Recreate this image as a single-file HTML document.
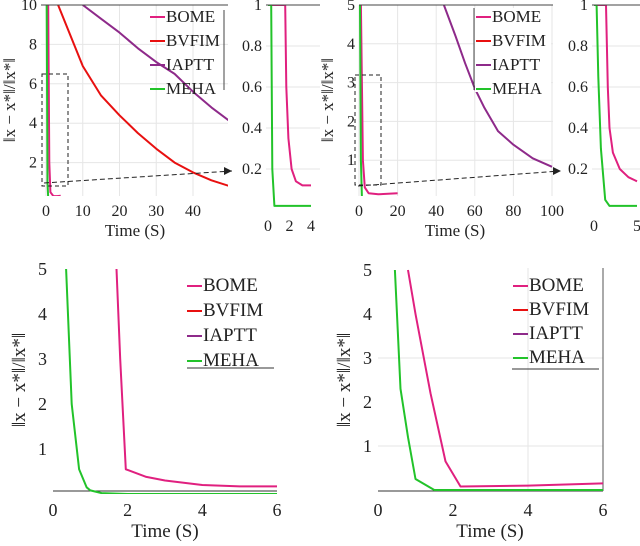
<!DOCTYPE html>
<html><head><meta charset="utf-8">
<style>
body{margin:0;background:#fff;width:640px;height:541px;overflow:hidden}
svg text{font-family:"Liberation Serif","DejaVu Serif","Times New Roman",serif !important;fill:#222}
</style></head>
<body>
<svg id="s" width="640" height="541" xmlns="http://www.w3.org/2000/svg"></svg>
<script>
// ---- data ----
const seriesNames=["BOME","BVFIM","IAPTT","MEHA"];
const seriesColors=["#e0207f","#e81010","#8e2a8a","#22c32a"];
// panel A (top-left)
const aBomeT=[0,0.6,0.9,1.2,2,3,4];   const aBomeV=[10,10,2,0.5,0.3,0.3,0.32];
const aBvfimT=[3.3,10,15,20,25,30,35,40,45,50]; const aBvfimV=[10,6.9,5.4,4.4,3.5,2.7,2.0,1.5,1.1,0.8];
const aIapttT=[10,15,20,25,30,35,40,45,50]; const aIapttV=[10,9.3,8.6,7.8,7.1,6.5,5.6,4.8,4.1];
const aMehaT=[0,0.2,0.4,0.6,3,4]; const aMehaV=[10,10,1,0.2,0.2,0.2];
const aInsBomeT=[0,1.6,1.7,1.9,2.2,2.6,3.2,4]; const aInsBomeV=[1,1,0.6,0.35,0.2,0.14,0.12,0.12];
const aInsMehaT=[0,0.3,0.4,0.6,4]; const aInsMehaV=[1,1,0.2,0.02,0.02];
// panel B (top-right)
const bBomeT=[0,1,2,3,5,10,20]; const bBomeV=[5,5,1,0.3,0.15,0.12,0.15];
const bIapttT=[44,50,55,60,65,72,80,90,100]; const bIapttV=[5,4.2,3.5,2.85,2.35,1.75,1.4,1.05,0.83];
const bMehaT=[0,0.5,1,1.5,3,8]; const bMehaV=[5,5,1,0.05,0.02,0.02];
const bInsBomeT=[0,1.4,1.6,1.8,2.2,3,4,5]; const bInsBomeV=[1,1,0.6,0.4,0.28,0.2,0.16,0.14];
const bInsMehaT=[0,0.3,0.5,0.8,1.3,1.8,5]; const bInsMehaV=[1,1,0.65,0.3,0.05,0.02,0.02];
// panel C (bottom-left)
const cBomeT=[1.7,1.8,1.95,2.5,3,4,5,6]; const cBomeV=[5,3,0.55,0.38,0.3,0.2,0.17,0.17];
const cMehaT=[0.35,0.5,0.7,0.9,1.0,1.3,2,6]; const cMehaV=[5,2,0.55,0.15,0.08,0.02,0,0];
// panel D (bottom-right)
const dBomeT=[0.8,1.0,1.4,1.8,2.2,4,6]; const dBomeV=[5,4,2.2,0.65,0.08,0.1,0.15];
const dMehaT=[0.45,0.6,0.8,1.0,1.5,2,6]; const dMehaV=[5,2.3,1.2,0.25,0,0,0];
const aXTicks=[0,10,20,30,40], aYTicks=[2,4,6,8,10];
const bXTicks=[0,20,40,60,80,100], bYTicks=[1,2,3,4,5];
const insTicksY=[0.2,0.4,0.6,0.8,1];
const cXTicks=[0,2,4,6], cYTicks=[1,2,3,4,5];

const S=document.getElementById('s');
const NS="http://www.w3.org/2000/svg";
function mk(tag,at,parent){const e=document.createElementNS(NS,tag);for(const k in at)e.setAttribute(k,at[k]);(parent||S).appendChild(e);return e;}
function axis(x0,x1,t0,t1,y0,y1,v0,v1){return{x:t=>x0+(t-t0)/(t1-t0)*(x1-x0),y:v=>y0+(v-v0)/(v1-v0)*(y1-y0)};}
function line(ax,T,V,color,name,clip){const d=T.map((t,i)=>(i?'L':'M')+ax.x(t).toFixed(1)+','+ax.y(V[i]).toFixed(1)).join('');
 const p=mk('path',{d:d,fill:'none',stroke:color,'stroke-width':2,'stroke-linejoin':'round'});
 
 
 if(clip)p.setAttribute('clip-path','url(#'+clip+')');}
function txt(x,y,s,anchor,size,name){const t=mk('text',{x:x,y:y,'text-anchor':anchor||'middle','font-size':size||15});
 t.style.fontFamily='"Liberation Serif","DejaVu Serif",serif';t.textContent=s;
 
 return t;}
function clip(id,x,y,w,h){const c=mk('clipPath',{id:id});mk('rect',{x:x,y:y,width:w,height:h},c);}
function grid(ax,xt,yt,L,R,T,B){xt.forEach(t=>mk('line',{x1:ax.x(t),x2:ax.x(t),y1:T,y2:B,stroke:'#e6e6e6'}));yt.forEach(v=>mk('line',{x1:L,x2:R,y1:ax.y(v),y2:ax.y(v),stroke:'#e6e6e6'}));}
function legend(x,y,dy,name,size){const g=mk('g',{});
 seriesNames.forEach((n,i)=>{mk('line',{x1:x,x2:x+15,y1:y+i*dy-5,y2:y+i*dy-5,stroke:seriesColors[i],'stroke-width':2},g);
 const t=txt(x+16,y+i*dy,n,'start',size||16,'legend-entry-'+n.toLowerCase());g.appendChild(t);});}
function ylab(x,y,name,size){const t=txt(0,0,'‖x − x*‖/‖x*‖','middle',size||16,name);t.setAttribute('transform','translate('+x+','+y+') rotate(-90)');}

// ---------- Panel A ----------
let A=axis(46,193,0,40,202,5,0,10);
grid(A,aXTicks,aYTicks,41,228,5,196);
clip('ca',41,5,187,191);
line(A,aBvfimT,aBvfimV,seriesColors[1],'bvfim-line-a','ca');
line(A,aIapttT,aIapttV,seriesColors[2],'iaptt-line-a','ca');
line(A,aBomeT,aBomeV,seriesColors[0],'bome-line-a','ca');
line(A,aMehaT,aMehaV,seriesColors[3],'meha-line-a','ca');
mk('line',{x1:41,x2:228,y1:5,y2:5,stroke:'#444'});
aXTicks.forEach(t=>txt(A.x(t),216,t,'middle',16,'x-tick-a'));
aYTicks.forEach(v=>txt(37,A.y(v)+5,v,'end',16,'y-tick-a'));
txt(135,236,'Time (S)','middle',17,'x-axis-title-a');
ylab(15,100,'y-axis-title-a',17);
legend(150,22,24,'legend-a',17);
mk('line',{x1:224,x2:224,y1:10,y2:90,stroke:'#444'});
mk('rect',{x:42,y:74,width:26,height:112,fill:'none',stroke:'#222','stroke-dasharray':'4,3'});
mk('path',{d:'M44,183 L232,171',stroke:'#222','stroke-dasharray':'5,3',fill:'none'});
mk('path',{d:'M232,171 l-8,-4 l0,8z',fill:'#222'});
// inset A
let AI=axis(268,311,0,4,210,5,0,1);
grid(AI,[],insTicksY,266,320,5,210);
clip('cai',266,5,54,206);
line(AI,aInsBomeT,aInsBomeV,seriesColors[0],'bome-inset-a','cai');
line(AI,aInsMehaT,aInsMehaV,seriesColors[3],'meha-inset-a','cai');
mk('line',{x1:266,x2:320,y1:5,y2:5,stroke:'#444'});
[0,2,4].forEach(t=>txt(AI.x(t),231,t,'middle',16,'x-tick-ai'));
insTicksY.forEach(v=>txt(262,AI.y(v)+5,v,'end',16,'y-tick-ai'));

// ---------- Panel B ----------
let B=axis(359,552,0,100,199,5,0,5);
grid(B,bXTicks,bYTicks,359,553,5,196);
clip('cb',359,5,194,191);
line(B,bIapttT,bIapttV,seriesColors[2],'iaptt-line-b','cb');
line(B,bBomeT,bBomeV,seriesColors[0],'bome-line-b','cb');
line(B,bMehaT,bMehaV,seriesColors[3],'meha-line-b','cb');
mk('line',{x1:359,x2:553,y1:5,y2:5,stroke:'#444'});
bXTicks.forEach(t=>txt(B.x(t),216,t,'middle',16,'x-tick-b'));
bYTicks.forEach(v=>txt(355,B.y(v)+5,v,'end',16,'y-tick-b'));
txt(455,236,'Time (S)','middle',17,'x-axis-title-b');
ylab(333,100,'y-axis-title-b',17);
mk('rect',{x:475,y:8,width:76,height:84,fill:'#fff'});
legend(476,22,24,'legend-b',17);
mk('line',{x1:474,x2:474,y1:8,y2:90,stroke:'#444'});
mk('rect',{x:355,y:75,width:26,height:110,fill:'none',stroke:'#222','stroke-dasharray':'4,3'});
mk('path',{d:'M358,186 L560,171',stroke:'#222','stroke-dasharray':'5,3',fill:'none'});
mk('path',{d:'M561,171 l-8,-4 l0,8z',fill:'#222'});
// inset B
let BI=axis(594,637,0,5,210,5,0,1);
grid(BI,[],insTicksY,592,640,5,210);
clip('cbi',592,5,48,206);
line(BI,bInsBomeT,bInsBomeV,seriesColors[0],'bome-inset-b','cbi');
line(BI,bInsMehaT,bInsMehaV,seriesColors[3],'meha-inset-b','cbi');
mk('line',{x1:592,x2:640,y1:5,y2:5,stroke:'#444'});
[0,5].forEach(t=>txt(BI.x(t),231,t,'middle',16,'x-tick-bi'));
insTicksY.forEach(v=>txt(588,BI.y(v)+5,v,'end',16,'y-tick-bi'));

// ---------- Panel C ----------
let C=axis(53,277,0,6,494,269,0,5);
clip('cc',53,266,224,228);
mk('line',{x1:53,x2:277,y1:491,y2:491,stroke:'#333'});
line(C,cBomeT,cBomeV,seriesColors[0],'bome-line-c','cc');
line(C,cMehaT,cMehaV,seriesColors[3],'meha-line-c','cc');
cXTicks.forEach(t=>txt(C.x(t),516,t,'middle',18,'x-tick-c'));
cYTicks.forEach(v=>txt(47,C.y(v)+6,v,'end',18,'y-tick-c'));
txt(165,537,'Time (S)','middle',19,'x-axis-title-c');
ylab(25,380,'y-axis-title-c',19);
legend(187,291,25,'legend-c',19);
mk('line',{x1:187,x2:274,y1:368,y2:368,stroke:'#333'});

// ---------- Panel D ----------
let D=axis(378,603,0,6,490,270,0,5);
grid(D,[4],[1,3],378,603,268,490);
clip('cd',378,266,225,226);
mk('line',{x1:378,x2:603,y1:491,y2:491,stroke:'#333'});
mk('line',{x1:603,x2:603,y1:268,y2:491,stroke:'#555'});
line(D,dBomeT,dBomeV,seriesColors[0],'bome-line-d','cd');
line(D,dMehaT,dMehaV,seriesColors[3],'meha-line-d','cd');
cXTicks.forEach(t=>txt(D.x(t),516,t,'middle',18,'x-tick-d'));
cYTicks.forEach(v=>txt(372,D.y(v)+6,v,'end',18,'y-tick-d'));
txt(490,537,'Time (S)','middle',19,'x-axis-title-d');
ylab(350,380,'y-axis-title-d',19);
legend(513,291,24,'legend-d',19);
mk('line',{x1:512,x2:599,y1:369,y2:369,stroke:'#333'});
</script>
</body></html>
